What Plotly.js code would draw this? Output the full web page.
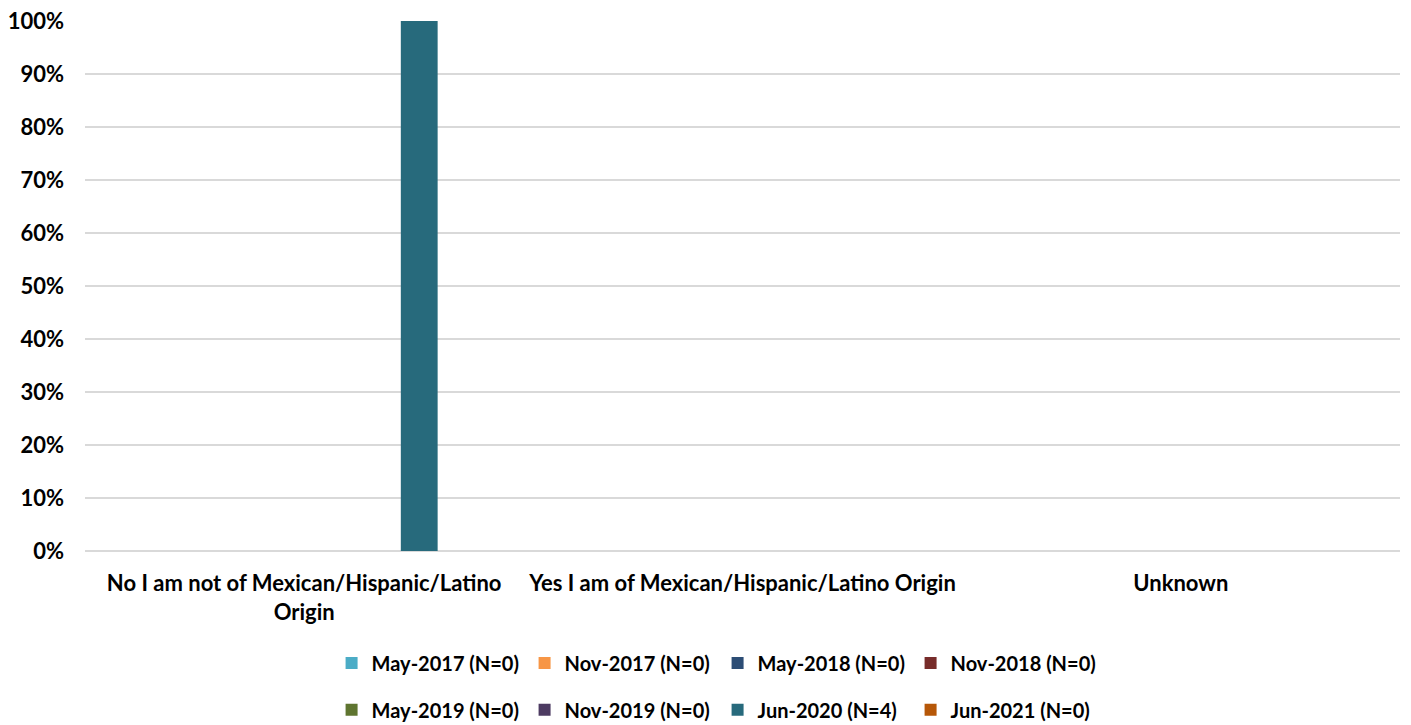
<!DOCTYPE html>
<html>
<head>
<meta charset="utf-8">
<script src="https://cdn.plot.ly/plotly-3.0.1.min.js"></script>
<style>
  html, body { margin: 0; padding: 0; background: #fff; }
  #grafico { width: 1411px; height: 725px; }
</style>
</head>
<body>
<div id="grafico"></div>
<script>
// categorias del eje x
let categorias = [
    'No I am not of Mexican/Hispanic/Latino<br>Origin',
    'Yes I am of Mexican/Hispanic/Latino Origin',
    'Unknown'
];

// series (porcentaje por categoria)
let serieNombres = [
    'May-2017 (N=0)', 'Nov-2017 (N=0)', 'May-2018 (N=0)', 'Nov-2018 (N=0)',
    'May-2019 (N=0)', 'Nov-2019 (N=0)', 'Jun-2020 (N=4)', 'Jun-2021 (N=0)'
];
let may2017 = [0, 0, 0];
let nov2017 = [0, 0, 0];
let may2018 = [0, 0, 0];
let nov2018 = [0, 0, 0];
let may2019 = [0, 0, 0];
let nov2019 = [0, 0, 0];
let jun2020 = [1, 0, 0];
let jun2021 = [0, 0, 0];

let colores = ['#4bacc6', '#f79646', '#2c4d75', '#772c2a',
               '#5f7530', '#4d3b62', '#276a7c', '#b65708'];

let valores = [may2017, nov2017, may2018, nov2018, may2019, nov2019, jun2020, jun2021];

let fuente = 'Lato, "Open Sans", sans-serif';
let letra = {family: fuente, size: 22, color: '#000', weight: 'bold'};

let trazas = [];
for (let i = 0; i < valores.length; i++)
{
    trazas.push({
        x: categorias,
        y: valores[i],
        name: serieNombres[i],
        type: 'bar',
        marker: {color: colores[i]},
        legend: i < 4 ? 'legend' : 'legend2',
        hoverinfo: 'x+y+name'
    });
}

let leyendaBase = {
    orientation: 'h',
    xref: 'container',
    yref: 'container',
    xanchor: 'left',
    yanchor: 'middle',
    font: {family: fuente, size: 20, color: '#000', weight: 'bold'},
    itemwidth: 30,
    entrywidth: 148,
    entrywidthmode: 'pixels',
    tracegroupgap: 0,
    bgcolor: 'rgba(0,0,0,0)'
};

let layout =
{
    width: 1411,
    height: 725,
    margin: {l: 85, r: 11, t: 21, b: 174, autoexpand: false},
    paper_bgcolor: '#fff',
    plot_bgcolor: '#fff',
    font: letra,
    barmode: 'group',
    bargap: 0.16,
    bargroupgap: 0.2,
    xaxis: {
        showgrid: false,
        showline: false,
        zeroline: false,
        ticks: '',
        ticklabelstandoff: 17,
        tickfont: letra,
        automargin: false
    },
    yaxis: {
        range: [0, 1],
        tickvals: [0, 0.1, 0.2, 0.3, 0.4, 0.5, 0.6, 0.7, 0.8, 0.9, 1],
        tickformat: '.0%',
        showgrid: true,
        gridcolor: '#d9d9d9',
        gridwidth: 1.5,
        zeroline: true,
        zerolinecolor: '#d9d9d9',
        zerolinewidth: 1.5,
        showline: false,
        ticks: '',
        ticklabelstandoff: 20,
        tickfont: letra,
        automargin: false
    },
    legend: Object.assign({}, leyendaBase, {x: 0.235, y: 0.0855}),
    legend2: Object.assign({}, leyendaBase, {x: 0.235, y: 0.021}),
    showlegend: true
};

let contenedor = document.getElementById('grafico');
Plotly.newPlot(contenedor, trazas, layout, {displayModeBar: false});
</script>
</body>
</html>
